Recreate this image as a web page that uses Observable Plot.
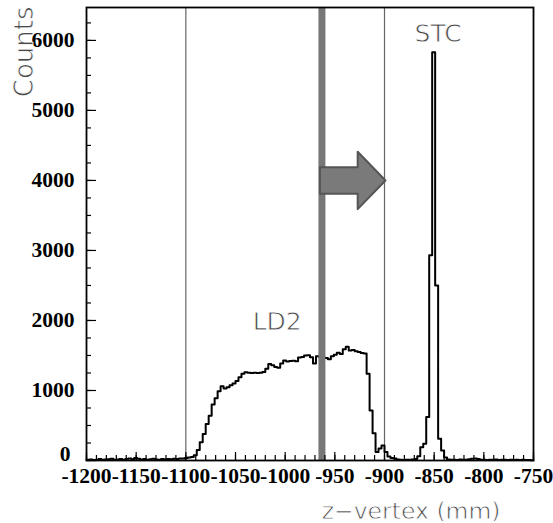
<!DOCTYPE html>
<html><head><meta charset="utf-8">
<script src="https://cdn.jsdelivr.net/npm/d3@7"></script>
<script src="https://cdn.jsdelivr.net/npm/@observablehq/plot@0.6"></script>
<style>body{margin:0;background:#fff}</style>
</head><body><div id="chart"></div>
<script>
// Histogram: 150 bins of 3 mm from -1200 to -750 mm
const binStart = -1200;
const binWidth = 3;
const counts = [
  10,15,8,12,20,10,14,18,25,12,15,20,10,22,30,18,35,25,15,20,12,18,25,15,10,20,15,22,18,25,20,28,
  30,35,42,50,75,150,
  260,380,520,640,800,890,990,1060,1030,1045,1075,1100,
  1135,1190,1240,1260,1255,1250,1252,1248,1255,1265,
  1310,1380,1360,1335,1325,1385,1430,1415,1420,1425,
  1418,1470,1480,1500,1505,1475,1385,1490,1480,1470,
  1465,1445,1490,1510,1540,1520,1590,1625,1570,1580,
  1560,1550,1535,1530,1240,715,390,120,170,215,
  120,57,35,30,15,10,8,12,10,15,
  20,60,190,240,620,2930,5830,2500,310,143,
  43,15,12,10,8,15,10,12,18,25,30,20,12,10,8,12,10,15,8,10,12,8,10,6,12,8,10,6,8,5
];
const xTickLabels = [-1200,-1150,-1100,-1050,-1000,-950,-900,-850,-800,-750];
const xMinorTicks = [];
for (let v = -1200; v <= -750; v += 10) xMinorTicks.push(v);
const yTickLabels = [1000,2000,3000,4000,5000,6000];
const yZeroLabel = [0];
const yMajorTicks = [0,1000,2000,3000,4000,5000,6000];
const yMinorTicks = [];
for (let v = 0; v <= 6250; v += 250) yMinorTicks.push(v);

const cutLines = [-1100, -900];
const targetCut = -963;
const arrowFrom = -965, arrowTo = -899, arrowLevel = 4000;
const annotations = [
  {label: "STC", z: -846, n: 6085},
  {label: "LD2", z: -1008, n: 1975}
];

const histPoints = counts.map((n, i) => ({z: binStart + i * binWidth, n}));
histPoints.push({z: binStart + counts.length * binWidth, n: counts[counts.length - 1]});

const shaftHalf = 190, headHalf = 410, headLen = 28;
const headBase = arrowTo - headLen;
const arrowPts = [
  {x: arrowFrom, y: arrowLevel + shaftHalf},
  {x: headBase, y: arrowLevel + shaftHalf},
  {x: headBase, y: arrowLevel + headHalf},
  {x: arrowTo, y: arrowLevel},
  {x: headBase, y: arrowLevel - headHalf},
  {x: headBase, y: arrowLevel - shaftHalf},
  {x: arrowFrom, y: arrowLevel - shaftHalf}
];

const tickFont = {fontSize: 21.5, fontWeight: "bold", fontFamily: "Liberation Serif, serif", fill: "black"};
const thinText = {fontFamily: "DejaVu Sans, sans-serif", fill: "#4a4a4a", stroke: "white", strokeWidth: 0.8, paintOrder: "normal"};

const chart = Plot.plot({
  width: 553,
  height: 523,
  marginLeft: 86,
  marginRight: 20,
  marginTop: 7,
  marginBottom: 63,
  x: {domain: [-1200, -750]},
  y: {domain: [0, 6470]},
  style: {background: "white", overflow: "visible"},
  marks: [
    Plot.ruleX(cutLines, {stroke: "#666", strokeWidth: 1.2}),
    Plot.line(histPoints, {x: "z", y: "n", curve: "step-after", stroke: "black", strokeWidth: 2}),
    Plot.ruleX([targetCut], {stroke: "#777", strokeWidth: 7}),
    Plot.line(arrowPts, {x: "x", y: "y", curve: "linear-closed", fill: "#7a7a7a", stroke: "#555", strokeWidth: 2}),
    Plot.frame({stroke: "black", strokeWidth: 1.8}),
    Plot.axisX(xMinorTicks, {tickSize: -5, fill: "none", label: null, strokeWidth: 1.2}),
    Plot.axisX(xTickLabels, {tickSize: -8, fill: "none", label: null, strokeWidth: 1.2}),
    Plot.axisY(yMinorTicks, {tickSize: -5, fill: "none", label: null, strokeWidth: 1.2}),
    Plot.axisY(yMajorTicks, {tickSize: -10, fill: "none", label: null, strokeWidth: 1.2}),
    Plot.axisX(xTickLabels, {tickSize: 0, tickPadding: 7, label: null, tickFormat: d => String(d), ...tickFont}),
    Plot.axisY(yTickLabels, {tickSize: 0, tickPadding: 12, label: null, tickFormat: d => String(d), ...tickFont}),
    Plot.axisY(yZeroLabel, {tickSize: 0, tickPadding: 16, dy: -6, label: null, tickFormat: d => String(d), ...tickFont}),
    Plot.text(annotations, {x: "z", y: "n", text: "label", fontSize: 25, ...thinText}),
    Plot.text(["Counts"], {frameAnchor: "top-left", rotate: -90, textAnchor: "end", dx: -72, dy: -1, fontSize: 26, ...thinText}),
    Plot.text(["z\u2212vertex (mm)"], {frameAnchor: "bottom-right", textAnchor: "end", dx: -33, dy: 58, fontSize: 23.5, ...thinText})
  ]
});
document.getElementById("chart").appendChild(chart);
</script>
</body></html>
